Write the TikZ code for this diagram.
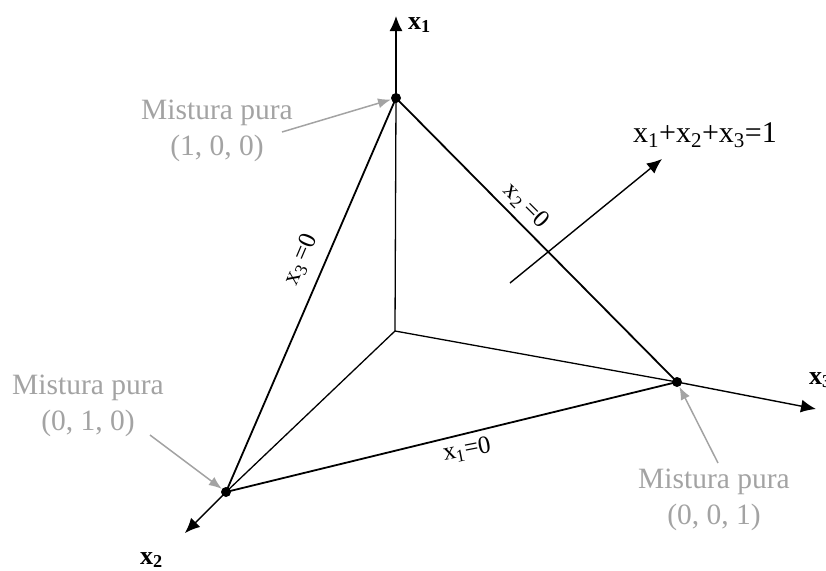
\documentclass[tikz,border=0pt]{standalone}
\usepackage{fontspec}
\setmainfont{Liberation Serif}
\usetikzlibrary{arrows.meta}
\definecolor{lbl}{HTML}{A3A3A3}
\tikzset{
  edge/.style={line width=1.8pt, black},
  inner/.style={line width=1.3pt, black},
  axis/.style={line width=1.4pt, black, -{Latex[length=15pt,width=13pt]}},
  gray arrow/.style={line width=1.5pt, lbl, -{Latex[length=13pt,width=10pt]}},
  vdot/.style={circle, fill=black, inner sep=0pt, minimum size=10pt},
  graytext/.style={text=lbl, align=center, font=\fontsize{29.5}{36}\selectfont, inner sep=0pt},
  edgelabel/.style={font=\fontsize{25}{30}\selectfont, inner sep=0pt},
  axislabel/.style={font=\bfseries\fontsize{26}{30}\selectfont, inner sep=0pt, anchor=base west},
}
\begin{document}
\begin{tikzpicture}[x=1pt,y=-1pt]
\useasboundingbox (0,0) rectangle (826,570);
% vertices and axis tips
\coordinate (O) at (395,331);
\node[vdot] (A) at (396,98) {};
\node[vdot] (B) at (226,492) {};
\node[vdot] (C) at (677,382) {};
\coordinate (T1) at (396,16);
\coordinate (T2) at (185,533);
\coordinate (T3) at (816,409);
% axes
\draw[inner] (O) -- (A.center);
\draw[axis] (A.center) -- (T1);
\draw[inner] (O) -- (B.center);
\draw[axis] (B.center) -- (T2);
\draw[inner] (O) -- (C.center);
\draw[axis] (C.center) -- (T3);
% triangle
\draw[edge] (A.center) -- (B.center) -- (C.center) -- cycle;
% axis labels
\node[axislabel] (L1) at (408,29) {x\textsubscript{1}};
\node[axislabel] (L2) at (140,564) {x\textsubscript{2}};
\node[axislabel] (L3) at (809,384) {x\textsubscript{3}};
% edge labels
\node[edgelabel, rotate=-45] (E2) at (526,206) {x\textsubscript{2}\,=0};
\node[edgelabel, rotate=67] (E3) at (301,260) {x\textsubscript{3}\,=0};
\node[edgelabel, rotate=11] (E1) at (467,450) {x\textsubscript{1}=0};
% normal arrow
\coordinate (N0) at (510,283);
\coordinate (N1) at (662,159);
\draw[axis] (N0) -- (N1);
\node[font=\fontsize{30}{36}\selectfont, inner sep=0pt, anchor=base] (P) at (705,142) {x\textsubscript{1}+x\textsubscript{2}+x\textsubscript{3}=1};
% gray labels
\node[graytext] (M1) at (217,131) {Mistura pura\\(1, 0, 0)};
\node[graytext] (M2) at (88,406) {Mistura pura\\(0, 1, 0)};
\node[graytext] (M3) at (714,500) {Mistura pura\\(0, 0, 1)};
\coordinate (M1t) at (282,132);
\coordinate (M2t) at (150,435);
\coordinate (M3t) at (718,463);
\draw[gray arrow] (M1t) -- (A);
\draw[gray arrow] (M2t) -- (B);
\draw[gray arrow] (M3t) -- (C);
\end{tikzpicture}
\end{document}
